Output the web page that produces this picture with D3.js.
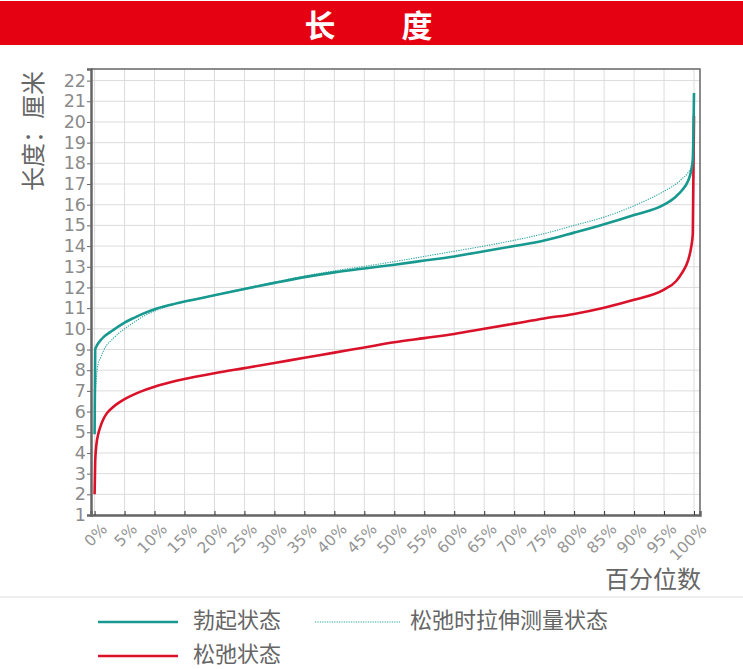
<!DOCTYPE html>
<html>
<head>
<meta charset="utf-8">
<script src="https://cdn.jsdelivr.net/npm/d3@7"></script>
<style>
  html, body { margin: 0; padding: 0; background: #fff; }
  #chart { width: 743px; height: 669px; }
</style>
</head>
<body>
<div id="chart"></div>
<script>
// percentiles (x) shared by all three series
const percentiles = [0, 0.1, 0.3, 0.6, 1, 1.5, 2, 3, 4, 5, 6.5, 8, 10, 12.5, 15, 20, 25, 30, 35, 40, 45, 50,
    55, 60, 65, 70, 75, 80, 85, 90, 95, 97, 98, 99, 99.5, 99.8, 100];

const erect = [4.9, 9.0, 9.15, 9.3, 9.45, 9.6, 9.72, 9.92, 10.12, 10.3, 10.52, 10.72, 10.95, 11.15, 11.32, 11.62,
    11.93, 12.22, 12.5, 12.73, 12.92, 13.1, 13.3, 13.5, 13.75, 14.0, 14.27, 14.65, 15.05, 15.5, 16.0, 16.4,
    16.7, 17.15, 17.6, 18.2, 21.4];

const stretched = [5.0, 6.5, 7.6, 8.3, 8.6, 8.95, 9.2, 9.5, 9.78, 10.0, 10.3, 10.58, 10.85, 11.12, 11.32, 11.64,
    11.96, 12.26, 12.55, 12.8, 13.02, 13.25, 13.5, 13.75, 14.0, 14.28, 14.6, 15.0, 15.4, 15.95, 16.65, 17.0,
    17.25, 17.55, 17.8, 18.1, 18.4];

const flaccid = [2.0, 3.6, 4.4, 4.9, 5.3, 5.65, 5.9, 6.2, 6.42, 6.6, 6.82, 7.0, 7.2, 7.4, 7.57, 7.85, 8.1, 8.35,
    8.6, 8.85, 9.1, 9.35, 9.55, 9.75, 10.0, 10.25, 10.5, 10.72, 11.02, 11.4, 11.9, 12.3, 12.7, 13.3, 13.9,
    14.6, 20.3];

const xTicks = d3.range(0, 101, 5);
const yTicks = d3.range(1, 23);

const seriesNames = ['勃起状态', '松弛时拉伸测量状态', '松弛状态'];

const CJK = '"Noto Sans CJK SC", "Noto Sans", sans-serif';
const NUM = '"DejaVu Sans", sans-serif';

const STYLE = {
    '勃起状态': { color: '#17998f', width: 2.6, dash: null },
    '松弛时拉伸测量状态': { color: '#2aa59e', width: 1.1, dash: '1.2,1.2' },
    '松弛状态': { color: '#d9122a', width: 2.6, dash: null }
};

function render() {
    const W = 743, H = 669;
    const m = { top: 69, right: 43, bottom: 154, left: 91 };
    const w = W - m.left - m.right;
    const h = H - m.top - m.bottom;

    const svg = d3.select('#chart').append('svg')
        .attr('width', W)
        .attr('height', H);

    // title bar
    svg.append('rect')
        .attr('x', 0).attr('y', 1)
        .attr('width', W).attr('height', 44)
        .attr('fill', '#e50012');
    svg.selectAll('.title-char')
        .data(['长', '度'])
        .join('text')
        .attr('class', 'title-char')
        .attr('x', (d, i) => i === 0 ? 320 : 417)
        .attr('y', 37)
        .attr('text-anchor', 'middle')
        .style('font-family', CJK)
        .style('font-size', '31px')
        .style('font-weight', 'bold')
        .attr('fill', '#fff')
        .text(d => d);

    const g = svg.append('g').attr('transform', `translate(${m.left},${m.top})`);

    const x = d3.scaleLinear().domain([-0.6, 101]).range([0, w]);
    const y = d3.scaleLinear().domain([1, 22.56]).range([h, 0]);

    // grid
    g.append('g').selectAll('line')
        .data(xTicks)
        .join('line')
        .attr('x1', d => x(d)).attr('x2', d => x(d))
        .attr('y1', 0).attr('y2', h)
        .attr('stroke', '#dcdcdc').attr('stroke-width', 1);
    g.append('g').selectAll('line')
        .data(yTicks)
        .join('line')
        .attr('x1', 0).attr('x2', w)
        .attr('y1', d => y(d)).attr('y2', d => y(d))
        .attr('stroke', '#dcdcdc').attr('stroke-width', 1);

    // frame top/right
    g.append('path')
        .attr('d', `M0,0H${w}V${h}`)
        .attr('fill', 'none')
        .attr('stroke', '#666')
        .attr('stroke-width', 1.5);

    // y axis
    g.append('g')
        .call(d3.axisLeft(y).tickValues(yTicks).tickSize(4).tickPadding(1))
        .call(sel => sel.select('.domain').attr('stroke', '#666').attr('stroke-width', 2.5))
        .call(sel => sel.selectAll('.tick line').attr('stroke', '#666'))
        .call(sel => sel.selectAll('.tick text')
            .style('font-family', NUM).style('font-size', '17.5px').attr('fill', '#8a8a8a'));

    // x axis (ticks point inward)
    g.append('g')
        .attr('transform', `translate(0,${h})`)
        .call(d3.axisBottom(x).tickValues(xTicks).tickSize(-4).tickFormat(d => d + '%'))
        .call(sel => sel.select('.domain').attr('stroke', '#666').attr('stroke-width', 2.5))
        .call(sel => sel.selectAll('.tick line').attr('stroke', '#333'))
        .call(sel => sel.selectAll('.tick text')
            .style('font-family', NUM).style('font-size', '15.5px').attr('fill', '#959595')
            .attr('text-anchor', 'end')
            .attr('dy', 0)
            .attr('transform', 'translate(11,13) rotate(-45)'));

    // axis titles
    svg.append('text')
        .attr('transform', 'translate(42,131) rotate(-90)')
        .attr('text-anchor', 'middle')
        .style('font-family', CJK).style('font-size', '24px')
        .attr('fill', '#666')
        .text('长度：厘米');
    svg.append('text')
        .attr('x', 701).attr('y', 588)
        .attr('text-anchor', 'end')
        .style('font-family', CJK).style('font-size', '24px')
        .attr('fill', '#666')
        .text('百分位数');

    // series
    const series = [
        { name: seriesNames[1], values: stretched },
        { name: seriesNames[2], values: flaccid },
        { name: seriesNames[0], values: erect }
    ];
    const line = d3.line()
        .x((d, i) => x(percentiles[i]))
        .y(d => y(d))
        .curve(d3.curveMonotoneX);

    g.selectAll('.series')
        .data(series)
        .join('path')
        .attr('class', 'series')
        .attr('d', d => line(d.values))
        .attr('fill', 'none')
        .attr('stroke', d => STYLE[d.name].color)
        .attr('stroke-width', d => STYLE[d.name].width)
        .attr('stroke-dasharray', d => STYLE[d.name].dash)
        .attr('stroke-linejoin', 'round');

    // legend separator
    svg.append('rect')
        .attr('x', 0).attr('y', 596)
        .attr('width', W).attr('height', 2)
        .attr('fill', '#eeeeee');

    const legendPos = [
        { name: seriesNames[0], x: 98, y: 622 },
        { name: seriesNames[1], x: 315, y: 622 },
        { name: seriesNames[2], x: 98, y: 656 }
    ];
    const legend = svg.selectAll('.legend')
        .data(legendPos)
        .join('g')
        .attr('class', 'legend')
        .attr('transform', d => `translate(${d.x},${d.y})`);
    legend.append('line')
        .attr('x1', 0)
        .attr('x2', d => d.name === seriesNames[1] ? 85 : 80)
        .attr('stroke', d => STYLE[d.name].color)
        .attr('stroke-width', d => d.name === seriesNames[1] ? 1.2 : 2.6)
        .attr('stroke-dasharray', d => STYLE[d.name].dash);
    legend.append('text')
        .attr('x', 95)
        .attr('y', 6)
        .style('font-family', CJK).style('font-size', '22px')
        .attr('fill', '#666')
        .text(d => d.name);
}

render();
</script>
</body>
</html>
